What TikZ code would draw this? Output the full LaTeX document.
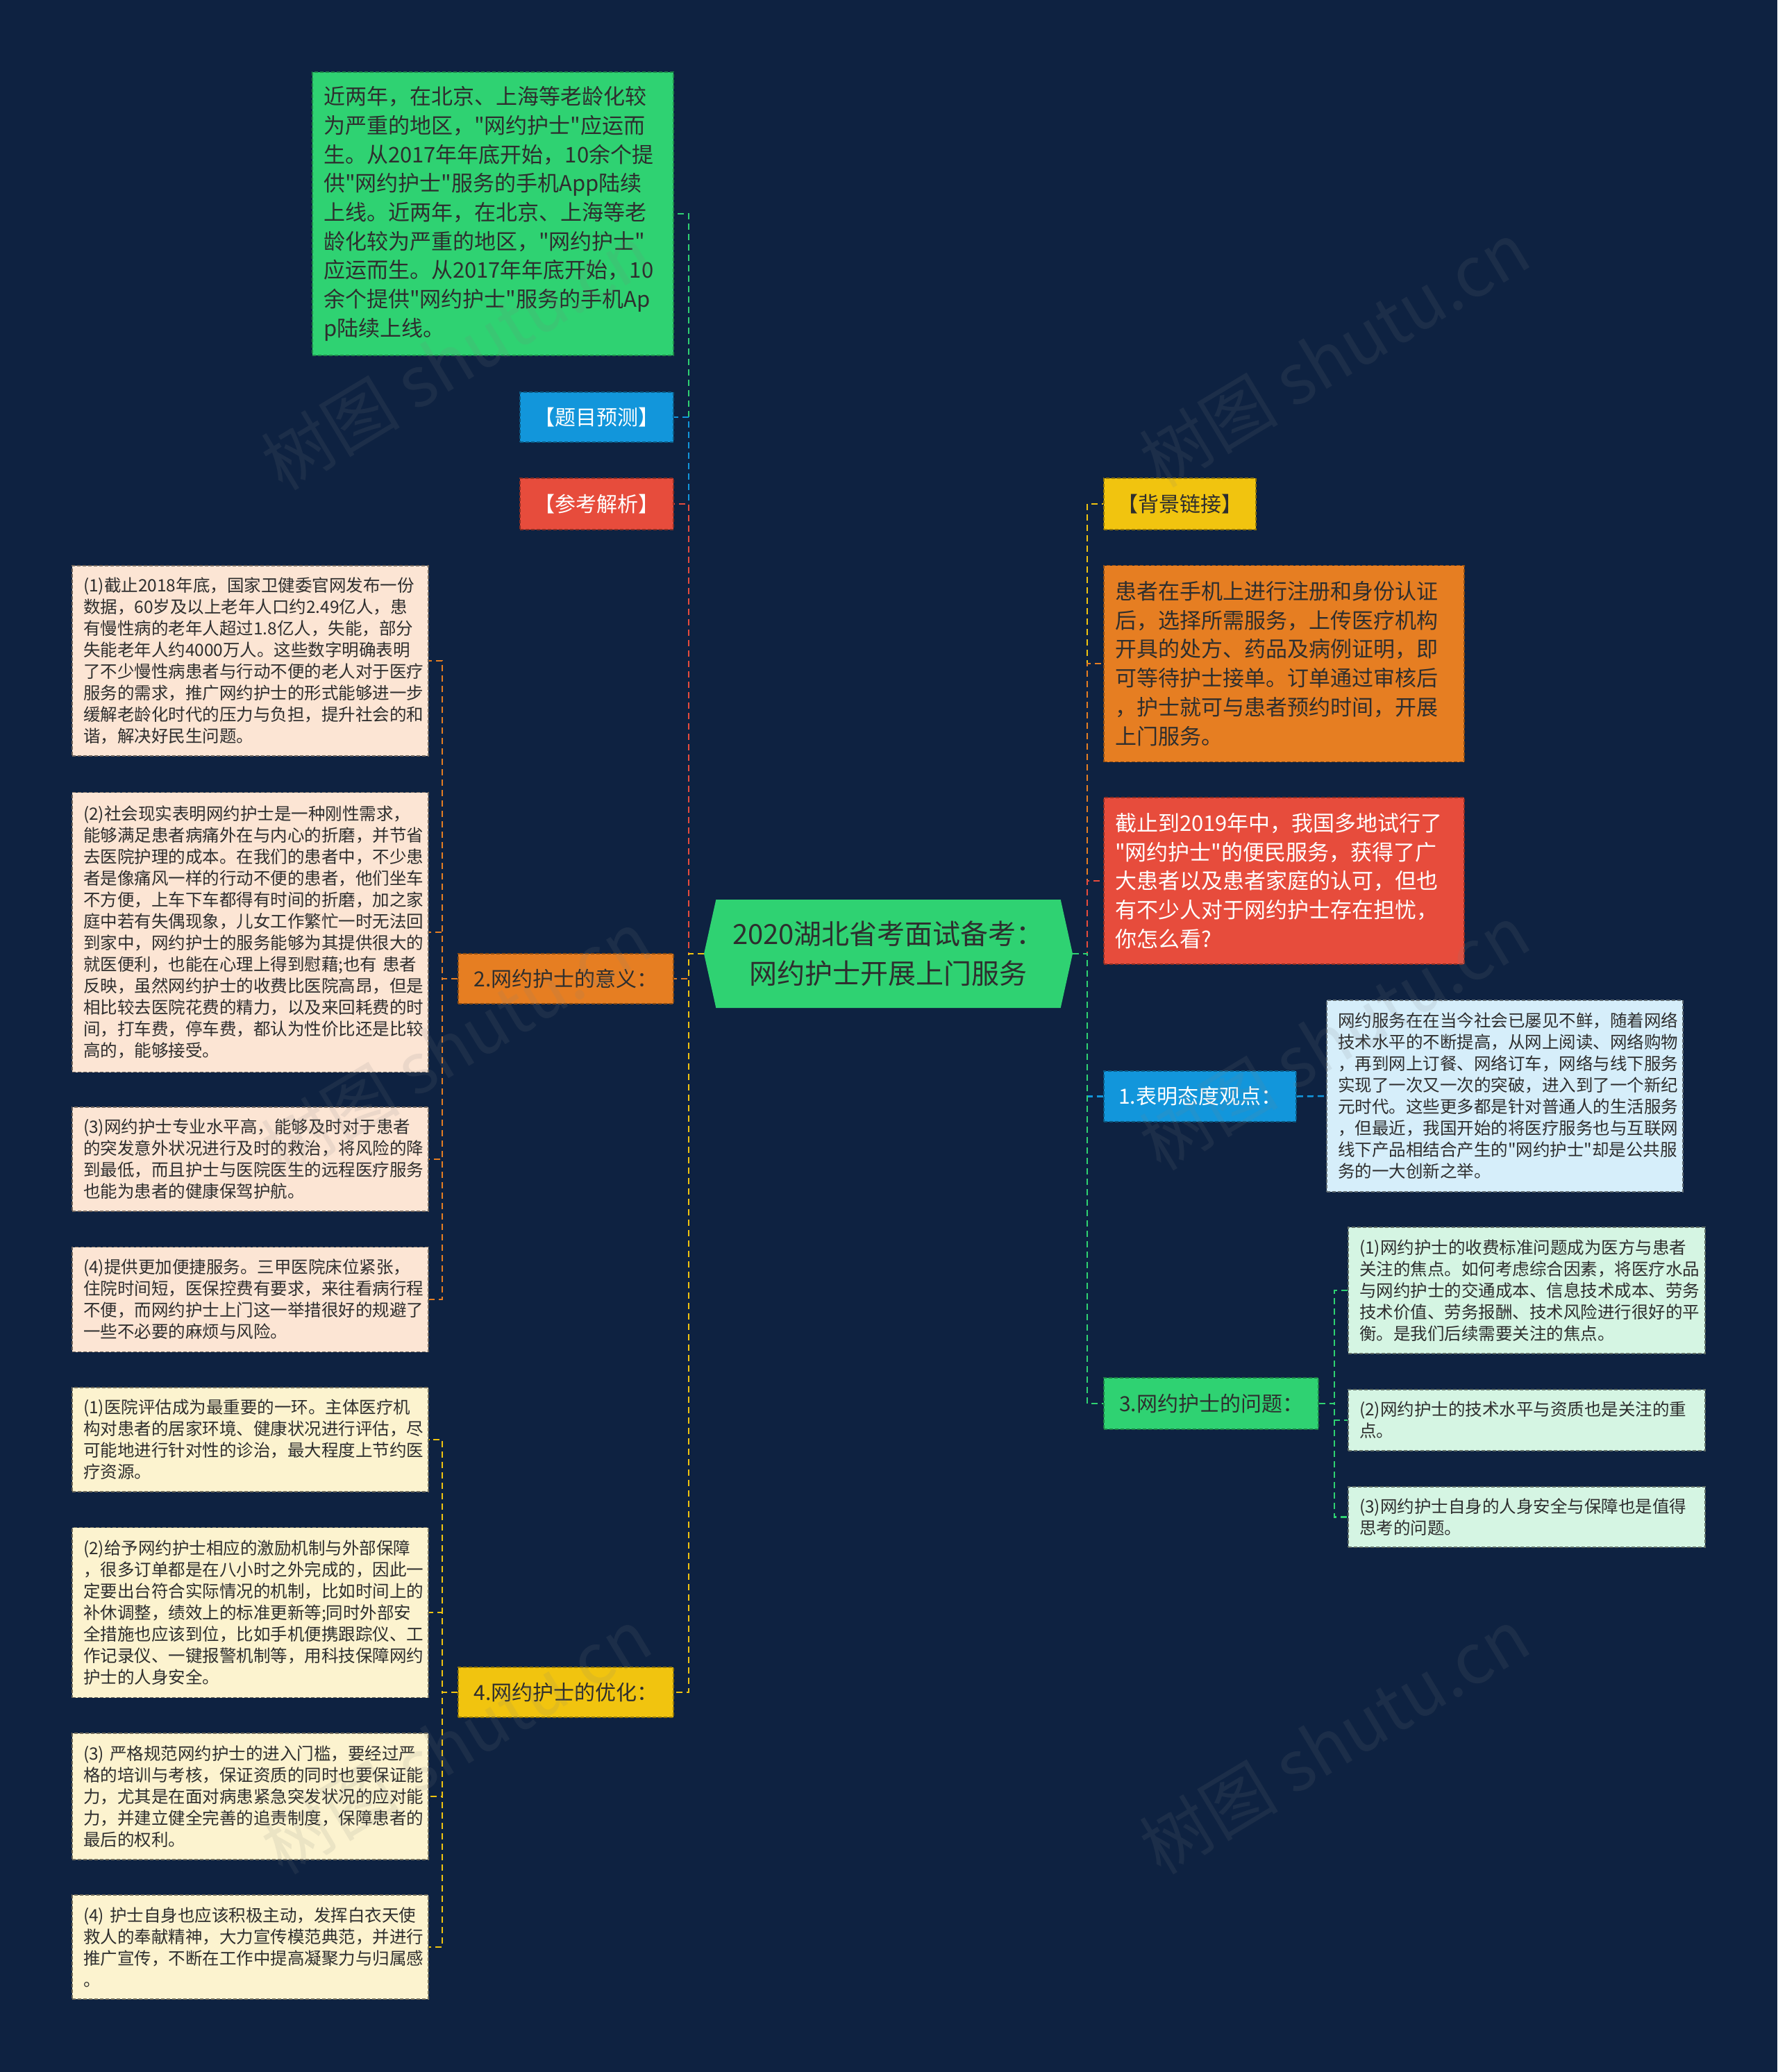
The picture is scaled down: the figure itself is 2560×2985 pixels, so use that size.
\documentclass[tikz,border=0pt]{standalone}
\usepackage{fontspec}
\setmainfont{Noto Sans CJK SC}[Ligatures=TeXOff]
\usepackage{tikz}
\usetikzlibrary{shapes.symbols}
\definecolor{nurnight}{HTML}{0E2241}
\definecolor{nurgreen}{HTML}{2FD272}
\definecolor{nurblue}{HTML}{1296DB}
\definecolor{nurred}{HTML}{E74C3C}
\definecolor{nurorange}{HTML}{E67E22}
\definecolor{nuryellow}{HTML}{F1C40F}
\definecolor{nurpeach}{HTML}{FCE5D4}
\definecolor{nurcream}{HTML}{FCF3CF}
\definecolor{nursky}{HTML}{D6EEFA}
\definecolor{nurmint}{HTML}{D5F5E3}
\colorlet{nurink}{black!82}
\tikzset{
  nurbox/.style={
    line width=1.6pt,
    dash pattern=on 5pt off 3pt,
    inner xsep=16pt,
    inner ysep=0pt,
    align=left
  },
  nurwide/.style={nurbox,font=\fontsize{31}{41.7}\selectfont},
  nursmall/.style={nurbox,font=\fontsize{24.5}{31}\selectfont},
  nurtag/.style={nurbox,align=center,inner xsep=0pt,
                 font=\fontsize{30}{36}\selectfont},
  nurcentre/.style={shape=signal,signal to=west and east,
                    signal pointer angle=155,fill=nurgreen,
                    minimum width=531pt,minimum height=156pt,inner sep=0pt,
                    align=center,text=nurink,font=\fontsize{40}{57}\selectfont},
  nurgreenbox/.style={nurwide,fill=nurgreen,draw=nurgreen!65!black,text=nurink},
  nurorangebox/.style={nurwide,fill=nurorange,draw=nurorange!60!black,text=nurink},
  nurredbox/.style={nurwide,fill=nurred,draw=nurred!60!black,text=white},
  nurbluetag/.style={nurtag,fill=nurblue,draw=nurblue!60!black,text=white},
  nurredtag/.style={nurtag,fill=nurred,draw=nurred!60!black,text=white},
  nuryellowtag/.style={nurtag,fill=nuryellow,draw=nuryellow!60!black,text=nurink},
  nurorangetag/.style={nurtag,fill=nurorange,draw=nurorange!60!black,text=nurink},
  nurgreentag/.style={nurtag,fill=nurgreen,draw=nurgreen!60!black,text=nurink},
  nurpeachbox/.style={nursmall,fill=nurpeach,draw=nurpeach!45!black,text=nurink},
  nurcreambox/.style={nursmall,fill=nurcream,draw=nurcream!45!black,text=nurink},
  nurskybox/.style={nursmall,fill=nursky,draw=nursky!45!black,text=nurink},
  nurmintbox/.style={nursmall,fill=nurmint,draw=nurmint!45!black,text=nurink},
  nurlink/.style={line width=2.5pt,dash pattern=on 9pt off 6pt},
  nurmark/.style={rotate=31,text=gray,opacity=0.13,
                  font=\fontsize{100}{100}\selectfont}
}

\begin{document}
\begin{tikzpicture}[x=1pt,y=-1pt]
  \fill[nurnight] (0,0) rectangle (2560,2985);
  \useasboundingbox (0,0) rectangle (2560,2985);

  \node[nurcentre] (cen) at (1279.5,1374)
    {2020湖北省考面试备考：\\网约护士开展上门服务};

  % left branch
  \node[nurgreenbox,text width=488pt,minimum height=408pt] (gtext) at (710,308)
    {近两年，在北京、上海等老龄化较\\为严重的地区，"网约护士"应运而\\生。从2017年年底开始，10余个提\\供"网约护士"服务的手机App陆续\\上线。近两年，在北京、上海等老\\龄化较为严重的地区，"网约护士"\\应运而生。从2017年年底开始，10\\余个提供"网约护士"服务的手机Ap\\p陆续上线。};
  \node[nurbluetag,minimum width=221pt,minimum height=72pt] (tiyc) at (859.5,601) {【题目预测】};
  \node[nurredtag,minimum width=221pt,minimum height=74pt] (ckjx) at (859.5,726) {【参考解析】};
  \node[nurorangetag,minimum width=310pt,minimum height=72pt] (yiyi) at (815,1410) {2.网约护士的意义：};
  \node[nuryellowtag,minimum width=310pt,minimum height=72pt] (youh) at (815,2438) {4.网约护士的优化：};

  \node[nurpeachbox,text width=481pt,minimum height=274pt] (yiyi1) at (360.5,952)
    {(1)截止2018年底，国家卫健委官网发布一份\\数据，60岁及以上老年人口约2.49亿人，患\\有慢性病的老年人超过1.8亿人，失能，部分\\失能老年人约4000万人。这些数字明确表明\\了不少慢性病患者与行动不便的老人对于医疗\\服务的需求，推广网约护士的形式能够进一步\\缓解老龄化时代的压力与负担，提升社会的和\\谐，解决好民生问题。};
  \node[nurpeachbox,text width=481pt,minimum height=403pt] (yiyi2) at (360.5,1343)
    {(2)社会现实表明网约护士是一种刚性需求，\\能够满足患者病痛外在与内心的折磨，并节省\\去医院护理的成本。在我们的患者中，不少患\\者是像痛风一样的行动不便的患者，他们坐车\\不方便，上车下车都得有时间的折磨，加之家\\庭中若有失偶现象，儿女工作繁忙一时无法回\\到家中，网约护士的服务能够为其提供很大的\\就医便利，也能在心理上得到慰藉;也有 患者\\反映，虽然网约护士的收费比医院高昂，但是\\相比较去医院花费的精力，以及来回耗费的时\\间，打车费，停车费，都认为性价比还是比较\\高的，能够接受。};
  \node[nurpeachbox,text width=481pt,minimum height=150pt] (yiyi3) at (360.5,1670)
    {(3)网约护士专业水平高，能够及时对于患者\\的突发意外状况进行及时的救治，将风险的降\\到最低，而且护士与医院医生的远程医疗服务\\也能为患者的健康保驾护航。};
  \node[nurpeachbox,text width=481pt,minimum height=151pt] (yiyi4) at (360.5,1872)
    {(4)提供更加便捷服务。三甲医院床位紧张，\\住院时间短，医保控费有要求，来往看病行程\\不便，而网约护士上门这一举措很好的规避了\\一些不必要的麻烦与风险。};

  \node[nurcreambox,text width=481pt,minimum height=150pt] (youh1) at (360.5,2074)
    {(1)医院评估成为最重要的一环。主体医疗机\\构对患者的居家环境、健康状况进行评估，尽\\可能地进行针对性的诊治，最大程度上节约医\\疗资源。};
  \node[nurcreambox,text width=481pt,minimum height=245pt] (youh2) at (360.5,2323)
    {(2)给予网约护士相应的激励机制与外部保障\\，很多订单都是在八小时之外完成的，因此一\\定要出台符合实际情况的机制，比如时间上的\\补休调整，绩效上的标准更新等;同时外部安\\全措施也应该到位，比如手机便携跟踪仪、工\\作记录仪、一键报警机制等，用科技保障网约\\护士的人身安全。};
  \node[nurcreambox,text width=481pt,minimum height=182pt] (youh3) at (360.5,2588)
    {(3) 严格规范网约护士的进入门槛，要经过严\\格的培训与考核，保证资质的同时也要保证能\\力，尤其是在面对病患紧急突发状况的应对能\\力，并建立健全完善的追责制度，保障患者的\\最后的权利。};
  \node[nurcreambox,text width=481pt,minimum height=150pt] (youh4) at (360.5,2805)
    {(4) 护士自身也应该积极主动，发挥白衣天使\\救人的奉献精神，大力宣传模范典范，并进行\\推广宣传，不断在工作中提高凝聚力与归属感\\。};

  % right branch
  \node[nuryellowtag,minimum width=219pt,minimum height=74pt] (bglink) at (1699.5,726) {【背景链接】};
  \node[nurorangebox,text width=487pt,minimum height=283pt] (otext) at (1849.5,956)
    {患者在手机上进行注册和身份认证\\后，选择所需服务，上传医疗机构\\开具的处方、药品及病例证明，即\\可等待护士接单。订单通过审核后\\，护士就可与患者预约时间，开展\\上门服务。};
  \node[nurredbox,text width=487pt,minimum height=240pt] (rtext) at (1849.5,1269)
    {截止到2019年中，我国多地试行了\\"网约护士"的便民服务，获得了广\\大患者以及患者家庭的认可，但也\\有不少人对于网约护士存在担忧，\\你怎么看?};
  \node[nurbluetag,minimum width=277pt,minimum height=73pt] (taidu) at (1728.5,1579.5) {1.表明态度观点：};
  \node[nurskybox,text width=481pt,minimum height=276pt] (taidu1) at (2167.5,1579)
    {网约服务在在当今社会已屡见不鲜，随着网络\\技术水平的不断提高，从网上阅读、网络购物\\，再到网上订餐、网络订车，网络与线下服务\\实现了一次又一次的突破，进入到了一个新纪\\元时代。这些更多都是针对普通人的生活服务\\，但最近，我国开始的将医疗服务也与互联网\\线下产品相结合产生的"网约护士"却是公共服\\务的一大创新之举。};
  \node[nurgreentag,minimum width=309pt,minimum height=74pt] (wenti) at (1744.5,2022) {3.网约护士的问题：};
  \node[nurmintbox,text width=482pt,minimum height=182pt] (wenti1) at (2199,1859)
    {(1)网约护士的收费标准问题成为医方与患者\\关注的焦点。如何考虑综合因素，将医疗水品\\与网约护士的交通成本、信息技术成本、劳务\\技术价值、劳务报酬、技术风险进行很好的平\\衡。是我们后续需要关注的焦点。};
  \node[nurmintbox,text width=482pt,minimum height=88pt] (wenti2) at (2199,2046)
    {(2)网约护士的技术水平与资质也是关注的重\\点。};
  \node[nurmintbox,text width=482pt,minimum height=87pt] (wenti3) at (2199,2185.5)
    {(3)网约护士自身的人身安全与保障也是值得\\思考的问题。};

  % connectors
  \draw[nurlink,nurgreen] (cen.west) -- ++(-22,0) |- (gtext.east);
  \draw[nurlink,nurblue] (cen.west) -- ++(-22,0) |- (tiyc.east);
  \draw[nurlink,nurred] (cen.west) -- ++(-22,0) |- (ckjx.east);
  \draw[nurlink,nurorange] (cen.west) -- ++(-22,0) |- (yiyi.east);
  \draw[nurlink,nuryellow] (cen.west) -- ++(-22,0) |- (youh.east);
  \foreach \k in {1,...,4} {
    \draw[nurlink,nurorange] (yiyi.west) -- ++(-22,0) |- (yiyi\k.east);
    \draw[nurlink,nuryellow] (youh.west) -- ++(-22,0) |- (youh\k.east);
  }
  \draw[nurlink,nuryellow] (cen.east) -- ++(21,0) |- (bglink.west);
  \draw[nurlink,nurorange] (cen.east) -- ++(21,0) |- (otext.west);
  \draw[nurlink,nurred] (cen.east) -- ++(21,0) |- (rtext.west);
  \draw[nurlink,nurblue] (cen.east) -- ++(21,0) |- (taidu.west);
  \draw[nurlink,nurgreen] (cen.east) -- ++(21,0) |- (wenti.west);
  \draw[nurlink,nurblue] (taidu.east) -- (taidu1.west);
  \foreach \k in {1,2,3}
    \draw[nurlink,nurgreen] (wenti.east) -- ++(22,0) |- (wenti\k.west);

  % watermarks
  \node[nurmark] (mark1) at (657,514) {树图 shutu.cn};
  \node[nurmark] (mark2) at (657,1503) {树图 shutu.cn};
  \node[nurmark] (mark3) at (657,2508) {树图 shutu.cn};
  \node[nurmark] (mark4) at (1922,510) {树图 shutu.cn};
  \node[nurmark] (mark5) at (1922,1494) {树图 shutu.cn};
  \node[nurmark] (mark6) at (1922,2508) {树图 shutu.cn};
\end{tikzpicture}
\end{document}
